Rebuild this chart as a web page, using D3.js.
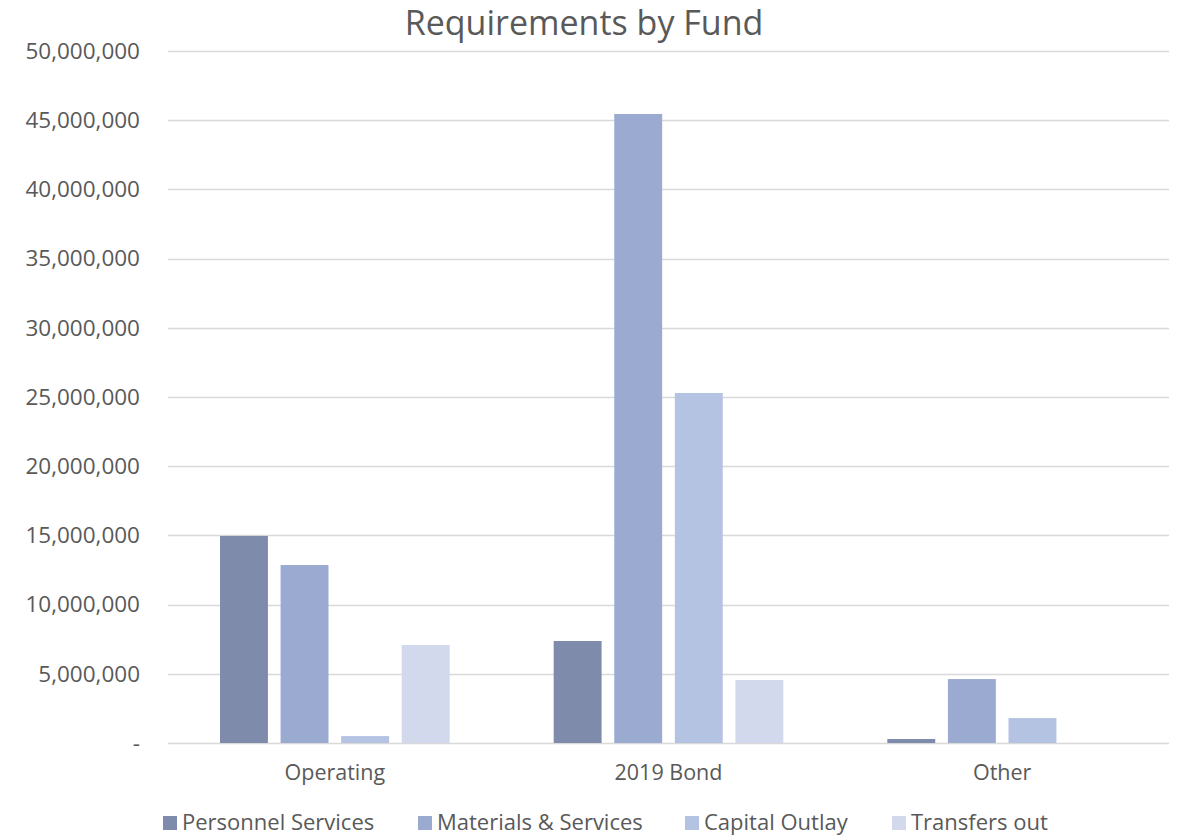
<!DOCTYPE html>
<html><head><meta charset="utf-8">
<script src="https://cdn.jsdelivr.net/npm/d3@7"></script>
<style>body{margin:0;background:#fff}svg{display:block}</style>
</head><body>
<svg id="c" width="1181" height="837"></svg>
<script>
const categories = ["Operating", "2019 Bond", "Other"];
const seriesNames = ["Personnel Services", "Materials & Services", "Capital Outlay", "Transfers out"];
const personnel = [14960000, 7370000, 290000];
const materials = [12860000, 45450000, 4620000];
const capital = [500000, 25290000, 1800000];
const transfers = [7080000, 4550000, 0];
const yTicks = [0, 5000000, 10000000, 15000000, 20000000, 25000000, 30000000, 35000000, 40000000, 45000000, 50000000];
const colors = ["#7f8bab", "#9baad1", "#b5c3e3", "#d3d9ec"];

(function () {
const seriesValues = [personnel, materials, capital, transfers];
const svg = d3.select("#c");
const font = "'Open Sans', Roboto, sans-serif";
const pLeft = 168, pRight = 1169, pTop = 51, pBottom = 743;

const y = d3.scaleLinear().domain([0, 50000000]).range([pBottom, pTop]);
const x0 = d3.scaleBand().domain(categories).range([pLeft, pRight]).padding(0);
const groupPad = 52;
const x1 = d3.scaleBand().domain(seriesNames).range([groupPad, x0.bandwidth() - groupPad]).paddingInner(0.209).paddingOuter(0);

svg.append("g").selectAll("line").data(yTicks).join("line")
  .attr("x1", pLeft).attr("x2", pRight)
  .attr("y1", d => Math.round(y(d)) + 0.5).attr("y2", d => Math.round(y(d)) + 0.5)
  .attr("stroke", "#d9d9d9").attr("stroke-width", 1.5);

const fmt = d3.format(",");
svg.append("g").selectAll("text").data(yTicks).join("text")
  .attr("x", 140).attr("y", d => y(d)).attr("dy", "0.35em")
  .attr("text-anchor", "end").attr("font-family", font).attr("font-size", 22.5)
  .attr("fill", "#595959")
  .text(d => d === 0 ? "-" : fmt(d));

const g = svg.append("g").selectAll("g").data(categories).join("g")
  .attr("transform", c => `translate(${x0(c)},0)`);
g.selectAll("rect").data((c, ci) => seriesNames.map((s, si) => ({s, si, v: seriesValues[si][ci]})))
  .join("rect")
  .attr("x", d => x1(d.s)).attr("width", x1.bandwidth())
  .attr("y", d => y(d.v)).attr("height", d => pBottom - y(d.v))
  .attr("fill", d => colors[d.si]);

svg.append("g").selectAll("text").data(categories).join("text")
  .attr("x", c => x0(c) + x0.bandwidth() / 2).attr("y", 780)
  .attr("text-anchor", "middle").attr("font-family", font).attr("font-size", 21.5)
  .attr("fill", "#595959").text(c => c);

svg.append("text").attr("x", 584).attr("y", 35).attr("text-anchor", "middle")
  .attr("font-family", font).attr("font-size", 34).attr("fill", "#595959")
  .text("Requirements by Fund");

const legX = [163, 418, 685, 892];
const leg = svg.append("g").selectAll("g").data(seriesNames).join("g")
  .attr("transform", (d, i) => `translate(${legX[i]},0)`);
leg.append("rect").attr("x", 0).attr("y", 816).attr("width", 14).attr("height", 14)
  .attr("fill", (d, i) => colors[i]);
leg.append("text").attr("x", 19).attr("y", 830).attr("font-family", font).attr("font-size", 22)
  .attr("fill", "#595959").text(d => d);
})();
</script>
</body></html>
